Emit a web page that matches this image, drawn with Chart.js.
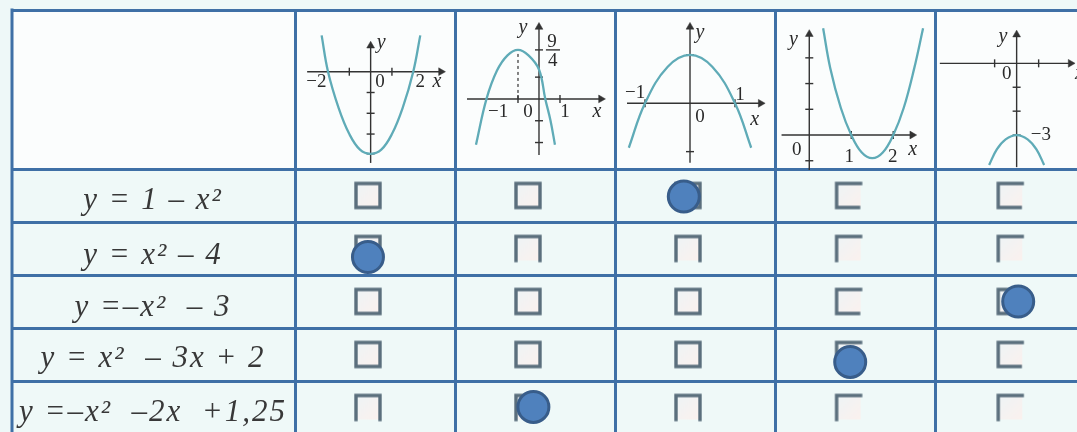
<!DOCTYPE html>
<html><head><meta charset="utf-8">
<script src="https://cdn.jsdelivr.net/npm/chart.js@4.4.1/dist/chart.umd.min.js"></script>
<style>
html,body{margin:0;padding:0;width:1077px;height:432px;overflow:hidden;background:#eef8f8;}
#wrap{position:relative;width:1077px;height:432px;overflow:hidden;}
#main{position:absolute;left:0;top:0;}
.mini{position:absolute;top:10px;width:160px;height:160px;pointer-events:none;}
</style></head><body>
<div id="wrap">
<canvas id="main" width="1100" height="440"></canvas>
<canvas class="mini" id="g0" width="160" height="160" style="left:295px"></canvas>
<canvas class="mini" id="g1" width="160" height="160" style="left:455px"></canvas>
<canvas class="mini" id="g2" width="160" height="160" style="left:615px"></canvas>
<canvas class="mini" id="g3" width="160" height="160" style="left:774px"></canvas>
<canvas class="mini" id="g4" width="160" height="160" style="left:933px"></canvas>
</div>
<script>
// ---------- table data ----------
const rowLabels = ['y = 1 – x²', 'y = x² – 4', 'y =–x²  – 3', 'y = x²  – 3x + 2', 'y =–x²  –2x  +1,25'];
const labelRows = [0.6, 1.63, 2.62, 3.58, 4.6];
const rowCenters = [0.5, 1.5, 2.5, 3.5, 4.5];
const boxCols = [0.456, 1.456, 2.456, 3.46, 4.47];
// checkbox outline kinds as printed: f = full, b = open bottom, r = open right, c = top+left only
const boxKinds = [
  ['f', 'f', 'f', 'r', 'r'],
  ['b', 'b', 'b', 'c', 'c'],
  ['f', 'f', 'f', 'r', 'r'],
  ['f', 'f', 'f', 'r', 'r'],
  ['b', 'b', 'b', 'c', 'c']
];
const answerCols = [2.43, 0.456, 4.52, 3.47, 1.49];
const answerRows = [0.52, 1.66, 2.5, 3.64, 4.49];
const rowBoundaries = [-3, 0, 1, 2, 3, 4, 5];
const colBoundaries = [0, 1, 2, 3, 4, 5];

// ---------- mini graph data ----------
const g1Curve = [[-2.3,1.75],[-2,0],[-1.5,-1.75],[-1,-3],[-0.5,-3.75],[0,-3.95],[0.5,-3.75],[1,-3],[1.5,-1.75],[2,0],[2.33,1.75]];
const g1Labels = [['−2',-2.55,-0.5],['0',0.44,-0.5],['2',2.33,-0.5],['x',3.11,-0.5,1],['y',0.5,1.38,1]];
const g2Curve = [[-3.0,-2.1],[-2.5,0],[-2,1.3],[-1.5,2.0],[-1,2.25],[-0.5,2.0],[0,1.35],[0.3,0],[0.55,-1.0],[0.76,-2.1]];
const g2Labels = [['y',-0.76,3.26,1],['9',0.62,2.62],['4',0.65,1.72],['−1',-1.95,-0.6],['0',-0.52,-0.6],['1',1.24,-0.6],['x',2.76,-0.6,1]];
const g3Curve = [[-1.36,-0.92],[-1,0],[-0.5,0.75],[0,1],[0.5,0.75],[1,0],[1.36,-0.92]];
const g3Labels = [['y',0.22,1.45,1],['1',1.11,0.17],['−1',-1.22,0.21],['0',0.22,-0.28],['x',1.44,-0.35,1]];
const g4Curve = [[0.33,4.15],[0.5,2.6],[0.75,1.06],[1,0],[1.25,-0.68],[1.5,-0.9],[1.75,-0.68],[2,0],[2.25,1.06],[2.5,2.6],[2.71,4.15]];
const g4Labels = [['y',-0.38,3.7,1],['0',-0.3,-0.58],['1',0.95,-0.86],['2',1.99,-0.86],['x',2.46,-0.58,1]];
const g5Curve = [[-1.25,-4.25],[-0.9,-3.6],[-0.5,-3.18],[0,-3],[0.5,-3.18],[0.9,-3.6],[1.25,-4.25]];
const g5Labels = [['y',-0.62,1.1,1],['0',-0.45,-0.45],['−3',1.1,-3.0],['x',2.85,-0.45,1]];

const graphRanges = [[-3.55,3.96,-4.73,2.97],[-4.0,3.62,-3.26,4.08],[-1.667,1.889,-1.38,1.93],[-0.84,2.97,-1.36,4.86],[-3.8,3.47,-4.46,2.23]];
const graphXAxis = [[-2.98,3.3],[-3.43,2.95],[-1.4,1.57],[-0.66,2.45],[-3.49,2.45]];
const graphYAxis = [[-4.39,1.25],[-2.57,3.3],[-1.23,1.58],[-1.36,3.92],[-4.34,1.2]];
const graphXTicks = [[-1,1],[-1,1],[-1,1],[1,2],[-1,1]];
const graphYTicks = [[-1,-2,-3,-3.95],[1,2.25,-1,-2],[1,-1],[1,2,3,-1],[-1,-2,-3]];
const g2Dashed = [[-1,0],[-1,2.25]];
const g2FracBar = [[0.33,2.25],[1.0,2.25]];

// ---------- main table chart ----------
const LINE = '#3f70a6';
const SERIF = '"Liberation Serif", "Times New Roman", serif';
const LABEL_SIZE = 31;
const LETTER_SP = '2px';
const COL0 = 284;
const mc = document.getElementById('main');
const meas = mc.getContext('2d');
meas.font = 'italic ' + LABEL_SIZE + 'px ' + SERIF;
const widest = Math.max(...rowLabels.map(s => meas.measureText(s).width));

function makeBox(kind) {
  const s = 30, c = document.createElement('canvas');
  c.width = s; c.height = s;
  const g = c.getContext('2d');
  const a = 3, b = 27;
  const grd = g.createLinearGradient(a, a, b, b);
  grd.addColorStop(0, '#eef4f6'); grd.addColorStop(1, '#fbf1ee');
  g.fillStyle = grd; g.fillRect(a, a, b - a, b - a);
  g.strokeStyle = '#5b6f7d'; g.lineWidth = 3.4; g.lineCap = 'square';
  g.beginPath();
  g.moveTo(a, b); g.lineTo(a, a); g.lineTo(b, a);
  if (kind === 'f') { g.lineTo(b, b); g.lineTo(a, b); }
  if (kind === 'b') { g.lineTo(b, b); }
  if (kind === 'r') { g.moveTo(a, b); g.lineTo(b - 2, b); }
  g.stroke();
  return c;
}
const boxImgs = {f: makeBox('f'), b: makeBox('b'), r: makeBox('r'), c: makeBox('c')};

const boxData = [];
boxKinds.forEach((row, r) => row.forEach((k, ci) => boxData.push({x: boxCols[ci], y: rowCenters[r], kind: k})));
const answerData = answerCols.map((x, i) => ({x, y: answerRows[i]}));

const tableBg = {
  id: 'tableBg',
  beforeDraw(chart) {
    const {ctx, chartArea: a, scales: {y}} = chart;
    const L = y.left;
    const top = y.getPixelForValue(-3), mid = y.getPixelForValue(0), bot = y.getPixelForValue(5);
    ctx.save();
    ctx.fillStyle = '#fbfdfd'; ctx.fillRect(L, top, a.right - L, mid - top);
    ctx.fillStyle = '#eff9f8'; ctx.fillRect(L, mid, a.right - L, bot - mid);
    ctx.restore();
    if ('letterSpacing' in ctx) ctx.letterSpacing = LETTER_SP;
  },
  beforeDatasetsDraw(chart) {
    if ('letterSpacing' in chart.ctx) chart.ctx.letterSpacing = '0px';
  },
  afterDraw(chart) {
    const {ctx, scales: {y}} = chart;
    ctx.save();
    ctx.strokeStyle = LINE; ctx.lineWidth = 3;
    ctx.beginPath();
    ctx.moveTo(y.left + 1, y.getPixelForValue(-3) - 1.5);
    ctx.lineTo(y.left + 1, y.getPixelForValue(5));
    ctx.stroke();
    ctx.restore();
  }
};

const isBoundary = v => Number.isInteger(v);
const gridColor = ctx => (ctx.tick && isBoundary(ctx.tick.value)) ? LINE : 'rgba(0,0,0,0)';

new Chart(mc, {
  type: 'scatter',
  data: {
    datasets: [
      {label: 'answers', data: answerData, order: 0, pointStyle: 'circle', pointRadius: 15.5,
       pointBackgroundColor: '#4f81bd', pointBorderColor: '#385d8a', pointBorderWidth: 3},
      {label: 'boxes', data: boxData, order: 1, pointRadius: 14,
       pointStyle: ctx => boxImgs[(ctx.raw && ctx.raw.kind) || 'f']}
    ]
  },
  plugins: [tableBg],
  options: {
    responsive: false, animation: false, events: [], devicePixelRatio: 1,
    layout: {autoPadding: false, padding: {left: 11, top: 10, right: 5, bottom: 6}},
    plugins: {legend: {display: false}, tooltip: {enabled: false}},
    scales: {
      x: {
        type: 'linear', min: 0, max: 5,
        afterBuildTicks: s => { s.ticks = colBoundaries.map(v => ({value: v})); },
        afterFit: s => { s.height = 0; s.paddingLeft = 0; s.paddingRight = 0; },
        ticks: {display: false},
        border: {display: false},
        grid: {color: LINE, lineWidth: 3, drawTicks: false}
      },
      y: {
        type: 'linear', min: -3, max: 5, reverse: true,
        afterBuildTicks: s => {
          const t = rowBoundaries.map(v => ({value: v}));
          labelRows.forEach(v => t.push({value: v}));
          t.sort((p, q) => p.value - q.value);
          s.ticks = t;
        },
        afterFit: s => { s.width = COL0; s.paddingTop = 0; s.paddingBottom = 0; },
        border: {display: false},
        grid: {color: gridColor, tickColor: gridColor, lineWidth: 3, drawTicks: true, tickLength: COL0},
        ticks: {
          autoSkip: false, maxRotation: 0, crossAlign: 'center',
          padding: -COL0 / 2 - widest / 2,
          color: '#383838',
          font: {family: SERIF, size: LABEL_SIZE, style: 'italic'},
          callback: v => isBoundary(v) ? '' : rowLabels[Math.floor(v)]
        }
      }
    }
  }
});

// ---------- mini graphs ----------
const AX = '#333333', CURVE = '#5fabb7';
function textPlugin(labels) {
  return {
    id: 'axisText',
    afterDatasetsDraw(chart) {
      const {ctx, scales: {x, y}} = chart;
      ctx.save();
      ctx.fillStyle = '#2a2a2a'; ctx.textAlign = 'center'; ctx.textBaseline = 'middle';
      for (const [t, vx, vy, it] of labels) {
        ctx.font = (it ? 'italic 20px ' : '19px ') + SERIF;
        ctx.fillText(t, x.getPixelForValue(vx), y.getPixelForValue(vy));
      }
      ctx.restore();
    }
  };
}
const pts = arr => arr.map(([x, y]) => ({x, y}));
function mini(id, i, curve, labels, extra) {
  const [x0, x1, y0, y1] = graphRanges[i];
  const xa = graphXAxis[i], ya = graphYAxis[i];
  const ds = [
    {data: pts(curve), showLine: true, borderColor: CURVE, borderWidth: 2.3, pointRadius: 0, tension: 0.4},
    {data: [{x: xa[0], y: 0}, {x: xa[1], y: 0}], showLine: true, borderColor: AX, borderWidth: 1.4, pointRadius: 0},
    {data: [{x: 0, y: ya[0]}, {x: 0, y: ya[1]}], showLine: true, borderColor: AX, borderWidth: 1.4, pointRadius: 0},
    {data: graphXTicks[i].map(v => ({x: v, y: 0})), pointStyle: 'line', pointRotation: 90, pointRadius: 4,
     pointBorderColor: AX, pointBorderWidth: 1.4},
    {data: graphYTicks[i].map(v => ({x: 0, y: v})), pointStyle: 'line', pointRotation: 0, pointRadius: 4,
     pointBorderColor: AX, pointBorderWidth: 1.4},
    {data: [{x: xa[1], y: 0}, {x: 0, y: ya[1]}], pointStyle: 'triangle', pointRadius: 4.5,
     pointRotation: c => c.dataIndex === 0 ? 90 : 0, pointBackgroundColor: AX, pointBorderColor: AX, pointBorderWidth: 0.5}
  ].concat(extra || []);
  new Chart(document.getElementById(id), {
    type: 'scatter',
    data: {datasets: ds},
    plugins: [textPlugin(labels)],
    options: {
      responsive: false, animation: false, events: [], devicePixelRatio: 1,
      layout: {autoPadding: false, padding: 0},
      plugins: {legend: {display: false}, tooltip: {enabled: false}},
      scales: {
        x: {type: 'linear', min: x0, max: x1, display: false},
        y: {type: 'linear', min: y0, max: y1, display: false}
      }
    }
  });
}
mini('g0', 0, g1Curve, g1Labels);
mini('g1', 1, g2Curve, g2Labels, [
  {data: pts(g2Dashed), showLine: true, borderColor: AX, borderWidth: 1.2, borderDash: [3, 3], pointRadius: 0},
  {data: pts(g2FracBar), showLine: true, borderColor: AX, borderWidth: 1.4, pointRadius: 0}
]);
mini('g2', 2, g3Curve, g3Labels);
mini('g3', 3, g4Curve, g4Labels);
mini('g4', 4, g5Curve, g5Labels);
</script>
</body></html>
